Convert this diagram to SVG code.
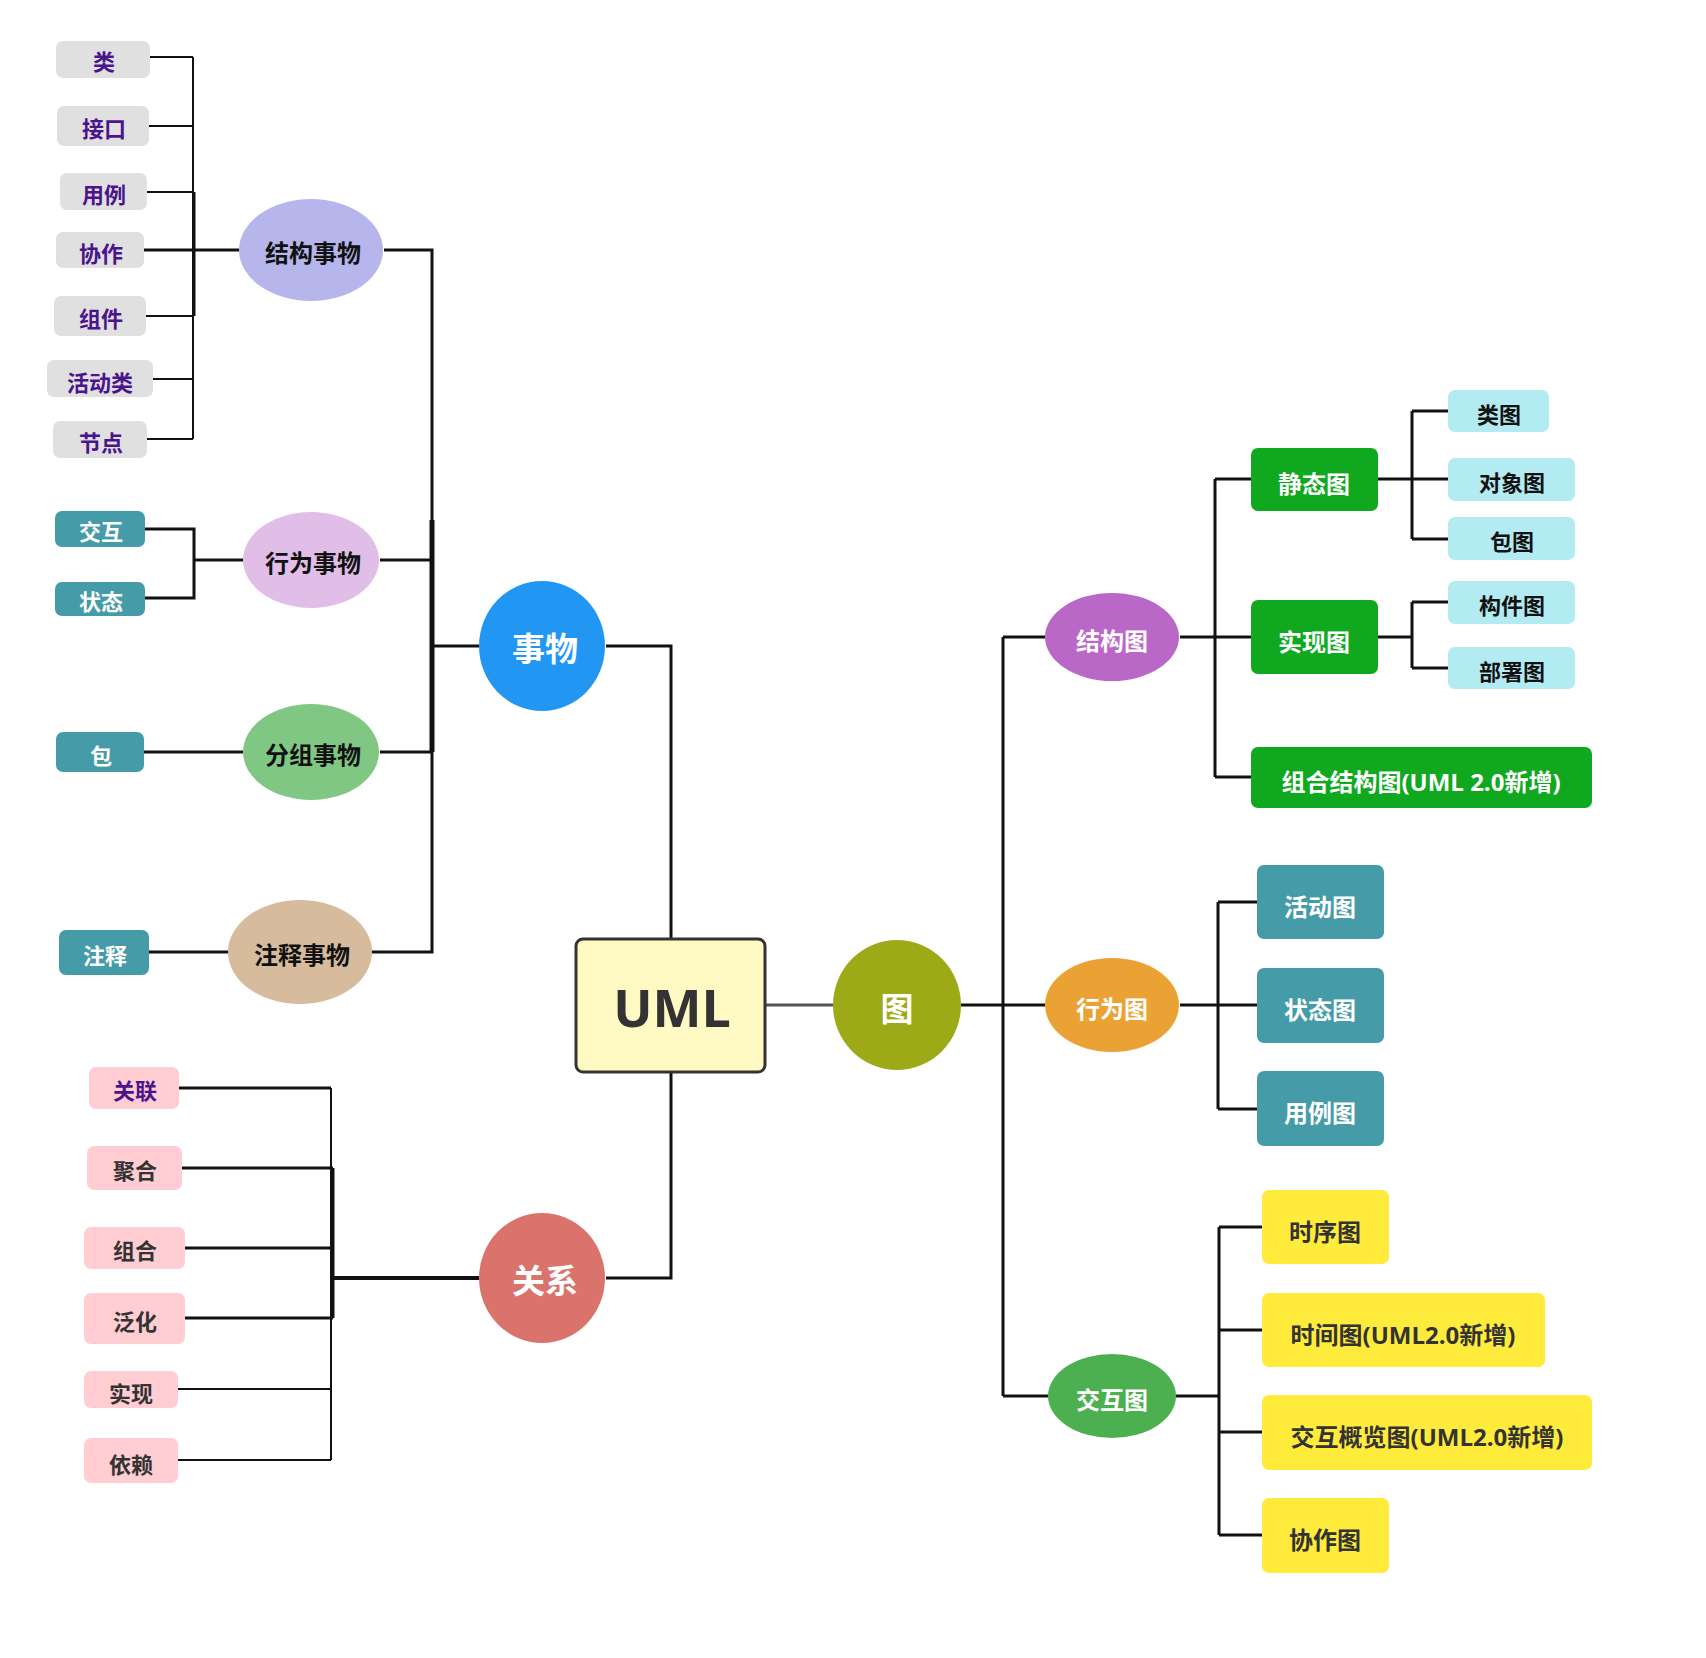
<svg xmlns="http://www.w3.org/2000/svg" width="1706" height="1658" viewBox="0 0 1706 1658">
<style>
text{font-family:'Open Sans','Noto Sans CJK SC',sans-serif;font-weight:bold;text-anchor:middle}
.t22{font-size:22px}.t24{font-size:24px}.t33{font-size:33px}
.w{fill:#ffffff}.k{fill:#111111}.p{fill:#4a148c}.d{fill:#333333}
.gray{fill:#e0e0e0}.teal{fill:#459ba8}.pink{fill:#ffcdd2}.green{fill:#10a81f}.lblue{fill:#b2ebf2}.yel{fill:#ffeb3b}
.c{fill:none;stroke:#111;stroke-width:3}
.c2{fill:none;stroke:#111;stroke-width:2}
</style>
<rect width="1706" height="1658" fill="#ffffff"/>
<g id="connectors">
<path class="c2" d="M150 57H193M149 126H193M147 192H193M146 316H193M153 379H193M147 439H193M193 57V439"/>
<path class="c" d="M194 192V316M144 250H239"/>
<path class="c" d="M145 529H194V598H145M194 560H243"/>
<path class="c" d="M144 752H243M149 952H228"/>
<path class="c" d="M384 250H432V952H372M380 560H432M380 752H432M432 646H479"/>
<path class="c" style="stroke-width:5" d="M432 520V752"/>
<path class="c" d="M606 646H671V939"/>
<path class="c" d="M671 1072V1278H606"/>
<path class="c" style="stroke-width:4" d="M479 1278H331"/>
<path class="c2" d="M331 1088V1460M178 1389H331M178 1460H331"/>
<path class="c" d="M179 1088H331M182 1168H333M185 1248H333M185 1318H333M333 1168V1318"/>
<path fill="none" stroke="#555555" stroke-width="3" d="M765 1005H833"/>
<path class="c" d="M961 1005H1045M1003 637V1396M1003 637H1045M1003 1396H1048"/>
<path class="c" d="M1180 637H1251M1215 479V777M1215 479H1251M1215 777H1251"/>
<path class="c" d="M1378 479H1448M1412 411V539M1412 411H1448M1412 539H1448"/>
<path class="c" d="M1378 637H1412M1412 602V668M1412 602H1448M1412 668H1448"/>
<path class="c" d="M1180 1005H1257M1218 902V1109M1218 902H1257M1218 1109H1257"/>
<path class="c" d="M1176 1396H1219M1219 1227V1535M1219 1227H1262M1219 1330H1262M1219 1432H1262M1219 1535H1262"/>
</g>

<g id="n-lei"><rect class="gray" x="56" y="41" width="94" height="37" rx="7"/><text class="t22 p" x="104" y="70">类</text></g>
<g id="n-jiekou"><rect class="gray" x="57" y="106" width="92" height="40" rx="7"/><text class="t22 p" x="104" y="137">接口</text></g>
<g id="n-yongli"><rect class="gray" x="60" y="173" width="87" height="37" rx="7"/><text class="t22 p" x="104" y="203">用例</text></g>
<g id="n-xiezuo"><rect class="gray" x="56" y="232" width="88" height="36" rx="7"/><text class="t22 p" x="101" y="262">协作</text></g>
<g id="n-zujian"><rect class="gray" x="54" y="296" width="92" height="40" rx="7"/><text class="t22 p" x="101" y="327">组件</text></g>
<g id="n-huodonglei"><rect class="gray" x="47" y="360" width="106" height="37" rx="7"/><text class="t22 p" x="100" y="391">活动类</text></g>
<g id="n-jiedian"><rect class="gray" x="53" y="421" width="94" height="37" rx="7"/><text class="t22 p" x="101" y="451">节点</text></g>

<g id="n-jiegoushiwu"><ellipse cx="311" cy="250" rx="72" ry="51" fill="#b6b6ec"/><text class="t24 k" x="313" y="262">结构事物</text></g>
<g id="n-xingweishiwu"><ellipse cx="311" cy="560" rx="68" ry="48" fill="#e1bee7"/><text class="t24 k" x="313" y="572">行为事物</text></g>
<g id="n-fenzushiwu"><ellipse cx="311" cy="752" rx="68" ry="48" fill="#81c784"/><text class="t24 k" x="313" y="764">分组事物</text></g>
<g id="n-zhushishiwu"><ellipse cx="300" cy="952" rx="72" ry="52" fill="#d6bb9c"/><text class="t24 k" x="302" y="964">注释事物</text></g>

<g id="n-jiaohu"><rect class="teal" x="55" y="511" width="90" height="36" rx="7"/><text class="t22 w" x="101" y="540">交互</text></g>
<g id="n-zhuangtai"><rect class="teal" x="55" y="582" width="90" height="34" rx="7"/><text class="t22 w" x="101" y="610">状态</text></g>
<g id="n-bao"><rect class="teal" x="56" y="732" width="88" height="40" rx="7"/><text class="t22 w" x="101" y="764">包</text></g>
<g id="n-zhushi"><rect class="teal" x="59" y="930" width="90" height="45" rx="7"/><text class="t22 w" x="105" y="964">注释</text></g>

<g id="n-shiwu"><ellipse cx="542" cy="646" rx="63" ry="65" fill="#2196f3"/><text class="t33 w" x="545" y="661">事物</text></g>
<g id="n-uml"><rect x="576" y="939" width="189" height="133" rx="7" fill="#fff9c4" stroke="#333333" stroke-width="3"/><text class="d" style="font-size:52px" x="672" y="1027">UML</text></g>
<g id="n-guanxi"><ellipse cx="542" cy="1278" rx="63" ry="65" fill="#da736b"/><text class="t33 w" x="545" y="1293">关系</text></g>
<g id="n-tu"><ellipse cx="897" cy="1005" rx="64" ry="65" fill="#9ea918"/><text class="t33 w" x="897" y="1021">图</text></g>

<g id="n-guanlian"><rect class="pink" x="89" y="1067" width="90" height="42" rx="7"/><text class="t22 p" x="135" y="1099">关联</text></g>
<g id="n-juhe"><rect class="pink" x="87" y="1146" width="95" height="44" rx="7"/><text class="t22 d" x="135" y="1179">聚合</text></g>
<g id="n-zuhe"><rect class="pink" x="84" y="1227" width="101" height="42" rx="7"/><text class="t22 d" x="135" y="1259">组合</text></g>
<g id="n-fanhua"><rect class="pink" x="84" y="1293" width="101" height="51" rx="7"/><text class="t22 d" x="135" y="1330">泛化</text></g>
<g id="n-shixian"><rect class="pink" x="84" y="1371" width="94" height="37" rx="7"/><text class="t22 d" x="131" y="1402">实现</text></g>
<g id="n-yilai"><rect class="pink" x="84" y="1438" width="94" height="45" rx="7"/><text class="t22 d" x="131" y="1473">依赖</text></g>

<g id="n-jiegoutu"><ellipse cx="1112" cy="637" rx="67" ry="44" fill="#ba68c8"/><text class="t24 w" x="1112" y="650">结构图</text></g>
<g id="n-xingweitu"><ellipse cx="1112" cy="1005" rx="67" ry="47" fill="#eba235"/><text class="t24 w" x="1112" y="1018">行为图</text></g>
<g id="n-jiaohutu"><ellipse cx="1112" cy="1396" rx="64" ry="42" fill="#4caf50"/><text class="t24 w" x="1112" y="1409">交互图</text></g>

<g id="n-jingtaitu"><rect class="green" x="1251" y="448" width="127" height="63" rx="7"/><text class="t24 w" x="1314" y="493">静态图</text></g>
<g id="n-shixiantu"><rect class="green" x="1251" y="600" width="127" height="74" rx="7"/><text class="t24 w" x="1314" y="651">实现图</text></g>
<g id="n-zuhejiegoutu"><rect class="green" x="1251" y="747" width="341" height="61" rx="7"/><text class="t24 w" x="1421" y="791">组合结构图(UML 2.0新增)</text></g>

<g id="n-leitu"><rect class="lblue" x="1448" y="390" width="101" height="42" rx="7"/><text class="t22 k" x="1499" y="423">类图</text></g>
<g id="n-duixiangtu"><rect class="lblue" x="1448" y="458" width="127" height="43" rx="7"/><text class="t22 k" x="1512" y="491">对象图</text></g>
<g id="n-baotu"><rect class="lblue" x="1448" y="517" width="127" height="43" rx="7"/><text class="t22 k" x="1512" y="550">包图</text></g>
<g id="n-goujiantu"><rect class="lblue" x="1448" y="581" width="127" height="43" rx="7"/><text class="t22 k" x="1512" y="614">构件图</text></g>
<g id="n-bushutu"><rect class="lblue" x="1448" y="647" width="127" height="42" rx="7"/><text class="t22 k" x="1512" y="680">部署图</text></g>

<g id="n-huodongtu"><rect class="teal" x="1257" y="865" width="127" height="74" rx="7"/><text class="t24 w" x="1320" y="916">活动图</text></g>
<g id="n-zhuangtaitu"><rect class="teal" x="1257" y="968" width="127" height="75" rx="7"/><text class="t24 w" x="1320" y="1019">状态图</text></g>
<g id="n-yonglitu"><rect class="teal" x="1257" y="1071" width="127" height="75" rx="7"/><text class="t24 w" x="1320" y="1122">用例图</text></g>

<g id="n-shixutu"><rect class="yel" x="1262" y="1190" width="127" height="74" rx="7"/><text class="t24 d" x="1325" y="1241">时序图</text></g>
<g id="n-shijiantu"><rect class="yel" x="1262" y="1293" width="283" height="74" rx="7"/><text class="t24 d" x="1403" y="1344">时间图(UML2.0新增)</text></g>
<g id="n-jiaohugailantu"><rect class="yel" x="1262" y="1395" width="330" height="75" rx="7"/><text class="t24 d" x="1427" y="1446">交互概览图(UML2.0新增)</text></g>
<g id="n-xiezuotu"><rect class="yel" x="1262" y="1498" width="127" height="75" rx="7"/><text class="t24 d" x="1325" y="1549">协作图</text></g>
</svg>
